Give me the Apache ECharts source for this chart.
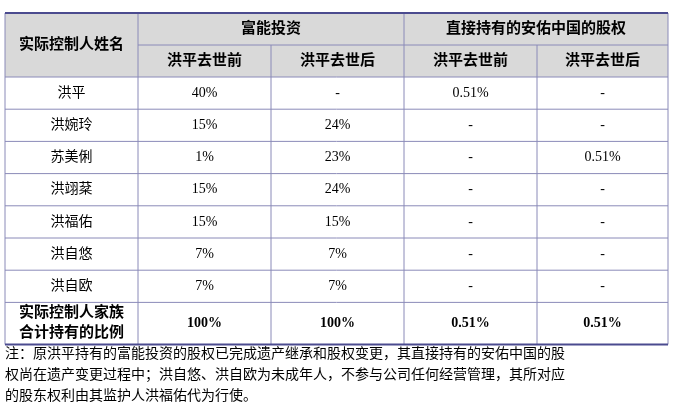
<!DOCTYPE html>
<html><head><meta charset="utf-8">
<script src="https://cdn.jsdelivr.net/npm/echarts@6/dist/echarts.min.js"></script>
<style>html,body{margin:0;padding:0;background:#fff}#c{width:673px;height:409px}</style>
</head><body><div id="c"></div>
<script>
const groupHeaders = ['富能投资', '直接持有的安佑中国的股权'];
const subHeaders = ['洪平去世前', '洪平去世后', '洪平去世前', '洪平去世后'];
const nameHeader = '实际控制人姓名';
const names = ['洪平', '洪婉玲', '苏美俐', '洪翊棻', '洪福佑', '洪自悠', '洪自欧'];
const funengBefore = ['40%', '15%', '1%', '15%', '15%', '7%', '7%'];
const funengAfter = ['-', '24%', '23%', '24%', '15%', '7%', '7%'];
const anyouBefore = ['0.51%', '-', '-', '-', '-', '-', '-'];
const anyouAfter = ['-', '-', '0.51%', '-', '-', '-', '-'];
const totalLabel = ['实际控制人家族', '合计持有的比例'];
const totals = ['100%', '100%', '0.51%', '0.51%'];
const noteLines = [
 '注：原洪平持有的富能投资的股权已完成遗产继承和股权变更，其直接持有的安佑中国的股',
 '权尚在遗产变更过程中；洪自悠、洪自欧为未成年人，不参与公司任何经营管理，其所对应',
 '的股东权利由其监护人洪福佑代为行使。'
];

(function(){
const colX = [5, 138, 271, 404, 537, 668];
const tTop = 13, h1 = 32, h2 = 32, rowH = 32.2, lastH = 42;
const lineC = '#8a8ab8', hdrBg = '#d9d9d9', thick = '#4b4b8f';
const cjk = '"Liberation Serif","Noto Sans CJK SC",serif';
const els = [];
function txt(x, y, s, bold, size) {
  els.push({type:'text', x, y, style:{text:s, fill:'#000', font:(bold?'bold ':'')+(size||14)+'px '+cjk, textAlign:'center', textVerticalAlign:'middle'}});
}
function line(x1,y1,x2,y2,c,w){els.push({type:'line',shape:{x1,y1,x2,y2},style:{stroke:c,lineWidth:w||1}});}
const hb = tTop + h1 + h2;
els.push({type:'rect', shape:{x:colX[0], y:tTop, width:colX[5]-colX[0], height:h1+h2}, style:{fill:hdrBg}});
txt((colX[0]+colX[1])/2, tTop+(h1+h2)/2, nameHeader, true, 15);
txt((colX[1]+colX[3])/2, tTop+h1/2, groupHeaders[0], true, 15);
txt((colX[3]+colX[5])/2, tTop+h1/2, groupHeaders[1], true, 15);
subHeaders.forEach((s,i)=>txt((colX[i+1]+colX[i+2])/2, tTop+h1+h2/2, s, true, 15));
const cols = [names, funengBefore, funengAfter, anyouBefore, anyouAfter];
names.forEach((n,r)=>{
  const cy = hb + rowH*r + rowH/2;
  cols.forEach((c,i)=>txt((colX[i]+colX[i+1])/2, cy, c[r], false, 14));
});
const lt = hb + rowH*names.length;
txt((colX[0]+colX[1])/2, lt+lastH/2-10, totalLabel[0], true, 15);
txt((colX[0]+colX[1])/2, lt+lastH/2+10, totalLabel[1], true, 15);
totals.forEach((s,i)=>txt((colX[i+1]+colX[i+2])/2, lt+lastH/2, s, true, 14));
const bottom = lt + lastH;
line(colX[1], tTop+h1, colX[5], tTop+h1, lineC);
for (let r=0;r<=names.length;r++) line(colX[0], hb+rowH*r, colX[5], hb+rowH*r, lineC);
[0,1,3,5].forEach(i=>line(colX[i], tTop, colX[i], bottom, lineC));
[2,4].forEach(i=>line(colX[i], tTop+h1, colX[i], bottom, lineC));
line(colX[0], tTop, colX[5], tTop, thick, 2);
line(colX[0], bottom, colX[5], bottom, thick, 2);
noteLines.forEach((s,i)=>els.push({type:'text', x:5, y:bottom+10+i*21, style:{text:s, fill:'#000', font:'14px '+cjk, textVerticalAlign:'middle'}}));
const chart = echarts.init(document.getElementById('c'));
chart.setOption({graphic:{elements:els}});
})();
</script></body></html>
